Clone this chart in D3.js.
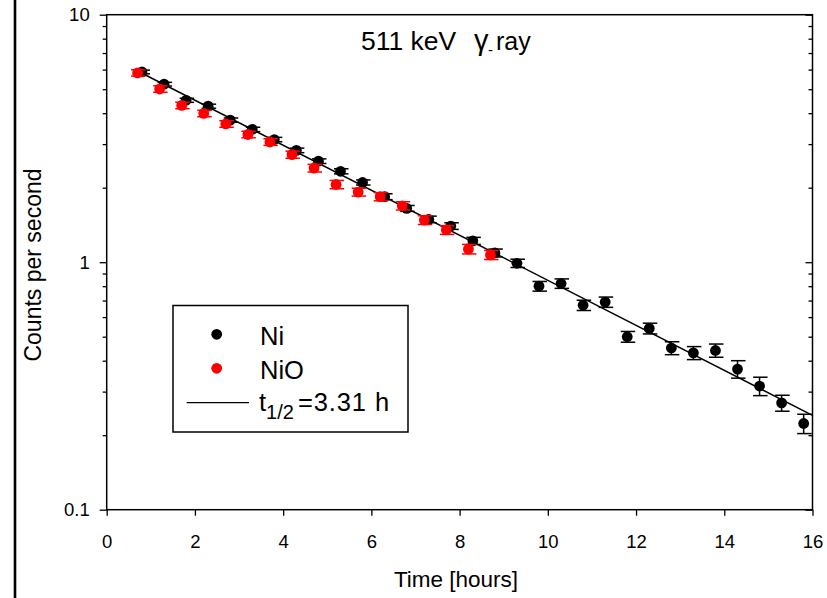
<!DOCTYPE html>
<html>
<head>
<meta charset="utf-8">
<script src="https://cdn.jsdelivr.net/npm/d3@7"></script>
<style>
  html, body { margin: 0; padding: 0; background: #fff; }
  svg text { font-family: "Liberation Sans", Arial, sans-serif; fill: #000; }
</style>
</head>
<body>
<svg id="chart" width="827" height="598"></svg>
<script>
// Ni foil: time [h], count rate [1/s], uncertainty
const niTime = [0.8, 1.3, 1.8, 2.3, 2.8, 3.3, 3.8, 4.3, 4.8, 5.3, 5.8, 6.3, 6.8, 7.3, 7.8, 8.3,
                8.8, 9.3, 9.8, 10.3, 10.8, 11.3, 11.8, 12.3, 12.8, 13.3, 13.8, 14.3, 14.8, 15.3, 15.8];
const niRate = [5.87, 5.24, 4.51, 4.27, 3.75, 3.44, 3.13, 2.83, 2.56, 2.33, 2.10, 1.84, 1.65, 1.49, 1.40, 1.22,
                1.09, 0.99, 0.80, 0.82, 0.67, 0.69, 0.50, 0.54, 0.45, 0.43, 0.44, 0.37, 0.316, 0.27, 0.223];
const niErr  = [0.10, 0.09, 0.085, 0.08, 0.075, 0.07, 0.065, 0.06, 0.055, 0.055, 0.05, 0.05, 0.045, 0.045, 0.043, 0.04,
                0.04, 0.038, 0.036, 0.036, 0.032, 0.033, 0.025, 0.027, 0.027, 0.026, 0.027, 0.03, 0.027, 0.02, 0.02];

// NiO sample
const nioTime = [0.7, 1.2, 1.7, 2.2, 2.7, 3.2, 3.7, 4.2, 4.7, 5.2, 5.7, 6.2, 6.7, 7.2, 7.7, 8.2, 8.7];
const nioRate = [5.82, 5.01, 4.30, 3.99, 3.62, 3.28, 3.06, 2.72, 2.40, 2.06, 1.92, 1.84, 1.69, 1.48, 1.35, 1.13, 1.07];
const nioErr  = [0.17, 0.15, 0.13, 0.12, 0.11, 0.10, 0.095, 0.09, 0.085, 0.08, 0.07, 0.07, 0.065, 0.06, 0.055, 0.05, 0.045];

// Exponential decay fit
const fitTime = [0.8, 16];
const fitAmplitude = 6.86;   // counts/s at t = 0
const halfLife = 3.31;       // hours

const xTicks = [0, 2, 4, 6, 8, 10, 12, 14, 16];
const yMajorTicks = [0.1, 1, 10];
const yMinorTicks = [0.2, 0.3, 0.4, 0.5, 0.6, 0.7, 0.8, 0.9, 2, 3, 4, 5, 6, 7, 8, 9];

const legendNames = ["Ni", "NiO"];

const svg = d3.select("#chart");
const plot = { left: 106.7, right: 812.5, top: 14.7, bottom: 509.7 };

const x = d3.scaleLinear().domain([0, 16]).range([plot.left, plot.right]);
const y = d3.scaleLog().domain([0.1, 10]).range([plot.bottom, plot.top]);

// page border on the left
svg.append("line")
  .attr("x1", 15).attr("x2", 15).attr("y1", 0).attr("y2", 598)
  .attr("stroke", "#000").attr("stroke-width", 2.6);

// axes
const axisStyle = g => {
  g.select(".domain").remove();
  g.selectAll(".tick line").attr("stroke", "#000").attr("stroke-width", 1.3);
  g.selectAll(".tick text").attr("font-size", 18.5).attr("font-family", "Liberation Sans, Arial, sans-serif");
};

svg.append("g")
  .attr("transform", `translate(0,${plot.bottom})`)
  .call(d3.axisBottom(x).tickValues(xTicks).tickSize(6).tickPadding(19).tickFormat(d3.format("d")))
  .call(axisStyle);

svg.append("g")
  .attr("transform", `translate(${plot.left},0)`)
  .call(d3.axisLeft(y).tickValues(yMajorTicks).tickSize(7).tickPadding(10).tickFormat(d => String(d)))
  .call(axisStyle);

svg.append("g")
  .attr("transform", `translate(${plot.left},0)`)
  .call(d3.axisLeft(y).tickValues(yMinorTicks).tickSize(4).tickFormat(""))
  .call(axisStyle);

svg.append("g")
  .attr("transform", `translate(${plot.right},0)`)
  .call(d3.axisLeft(y).tickValues(yMajorTicks).tickSize(7).tickFormat(""))
  .call(axisStyle);

svg.append("g")
  .attr("transform", `translate(${plot.right},0)`)
  .call(d3.axisLeft(y).tickValues(yMinorTicks).tickSize(4).tickFormat(""))
  .call(axisStyle);

// plot frame
svg.append("rect")
  .attr("x", plot.left).attr("y", plot.top)
  .attr("width", plot.right - plot.left).attr("height", plot.bottom - plot.top)
  .attr("fill", "none").attr("stroke", "#000").attr("stroke-width", 1.5);

// fit line
const decay = t => fitAmplitude * Math.pow(2, -t / halfLife);
svg.append("path")
  .datum(fitTime)
  .attr("d", d3.line().x(t => x(t)).y(t => y(decay(t))))
  .attr("fill", "none").attr("stroke", "#000").attr("stroke-width", 1.5);

// data series with error bars
function drawSeries(times, rates, errs, color) {
  const pts = times.map((t, i) => ({ t, v: rates[i], e: errs[i] }));
  const g = svg.append("g");
  const cap = 6.5;
  const eb = g.selectAll(".eb").data(pts).join("g").attr("stroke", color).attr("stroke-width", 1.5);
  eb.append("line")
    .attr("x1", d => x(d.t)).attr("x2", d => x(d.t))
    .attr("y1", d => y(d.v + d.e)).attr("y2", d => y(d.v - d.e));
  eb.append("line")
    .attr("x1", d => x(d.t) - cap).attr("x2", d => x(d.t) + cap + 1.5)
    .attr("y1", d => y(d.v + d.e)).attr("y2", d => y(d.v + d.e));
  eb.append("line")
    .attr("x1", d => x(d.t) - cap).attr("x2", d => x(d.t) + cap + 1.5)
    .attr("y1", d => y(d.v - d.e)).attr("y2", d => y(d.v - d.e));
  g.selectAll("circle").data(pts).join("circle")
    .attr("cx", d => x(d.t)).attr("cy", d => y(d.v))
    .attr("r", 5.4).attr("fill", color);
}
drawSeries(niTime, niRate, niErr, "#000");
drawSeries(nioTime, nioRate, nioErr, "#ff0000");

// title
const title = svg.append("text").attr("y", 50).attr("font-size", 26.5);
title.append("tspan").attr("x", 361).text("511 keV");
title.append("tspan").attr("x", 474).attr("font-size", 29).text("γ");
title.append("tspan").attr("x", 488).attr("dy", 5).attr("font-size", 15).text("-");
title.append("tspan").attr("x", 496).attr("dy", -5).attr("font-size", 25).text("ray");

// axis titles
svg.append("text")
  .attr("x", 456).attr("y", 587).attr("text-anchor", "middle").attr("font-size", 22.5)
  .text("Time [hours]");
svg.append("text")
  .attr("transform", "translate(41,265) rotate(-90)")
  .attr("text-anchor", "middle").attr("font-size", 23)
  .text("Counts per second");

// legend
const lg = svg.append("g");
lg.append("rect")
  .attr("x", 173).attr("y", 305.5).attr("width", 235).attr("height", 126.5)
  .attr("fill", "#fff").attr("stroke", "#000").attr("stroke-width", 1.5);
const legendColors = ["#000", "#ff0000"];
legendNames.forEach((name, i) => {
  const cy = 334.3 + i * 34;
  lg.append("circle").attr("cx", 216.7).attr("cy", cy).attr("r", 5.4).attr("fill", legendColors[i]);
  lg.append("text").attr("x", 260).attr("y", cy + 10.7).attr("font-size", 25.5).text(name);
});
lg.append("line")
  .attr("x1", 186.7).attr("x2", 249).attr("y1", 402.7).attr("y2", 402.7)
  .attr("stroke", "#000").attr("stroke-width", 1.3);
const ft = lg.append("text").attr("x", 259).attr("y", 411).attr("font-size", 25.5);
ft.append("tspan").text("t");
ft.append("tspan").attr("font-size", 20).attr("dy", 8).text("1/2");
ft.append("tspan").attr("dy", -8).attr("dx", 4).attr("letter-spacing", 0.9).text(`=${halfLife} h`);
</script>
</body>
</html>
